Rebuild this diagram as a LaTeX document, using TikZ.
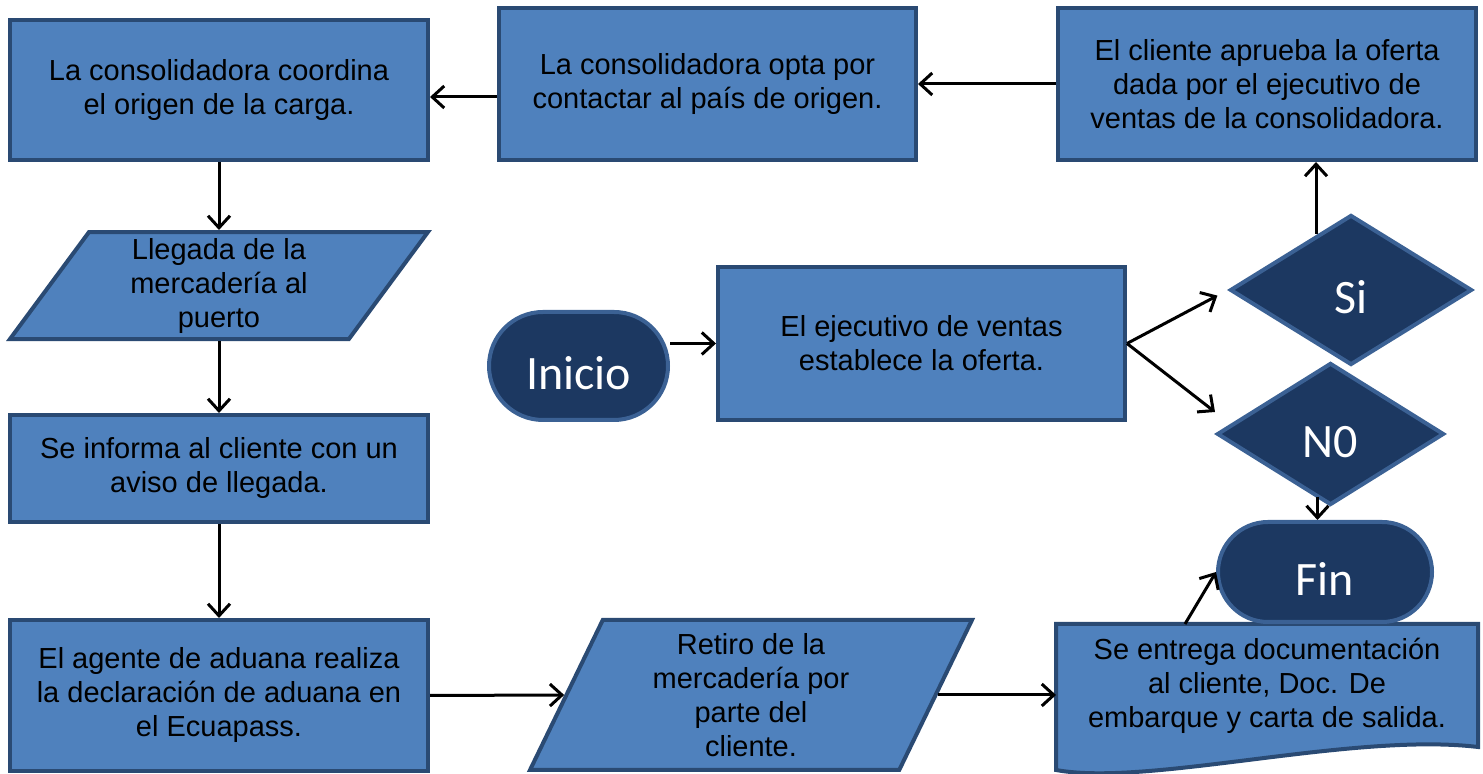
\documentclass[tikz,border=0pt]{standalone}
\usepackage{fontspec}
\setmainfont{Liberation Sans}
\newfontfamily\calibri{Carlito}
\usetikzlibrary{positioning,shapes.geometric,arrows.meta,backgrounds}

\definecolor{boxblue}{HTML}{4F81BD}
\definecolor{boxline}{HTML}{2A4A73}
\definecolor{darkblue}{HTML}{1C3861}
\definecolor{darkline}{HTML}{3B6194}

\tikzset{
  proc/.style={rectangle, draw=boxline, fill=boxblue, line width=2pt, align=center,
    inner sep=2pt, minimum width=209pt, font=\fontsize{14.5}{17}\selectfont},
  io/.style={proc, trapezium, trapezium stretches body=true},
  term/.style={rectangle, draw=darkline, fill=darkblue, line width=2pt, text=white,
    text height=24pt, text depth=0pt, font=\calibri\fontsize{24}{27}\selectfont},
  choice/.style={diamond, draw=darkline, fill=darkblue, line width=2pt, text=white,
    inner sep=0pt, text height=24pt, text depth=0pt, font=\calibri\fontsize{24}{27}\selectfont},
  flow/.style={line width=1.5pt, -{Straight Barb[length=6pt,width=11pt]}},
}

\begin{document}
\begin{tikzpicture}[x=0.5pt, y=0.5pt]
  \useasboundingbox (0,0) rectangle (1483,774);

  % top row
  \node[proc, minimum height=76pt] (aprueba) at (1267,690)
    {El cliente aprueba la oferta\\dada por el ejecutivo de\\ventas de la consolidadora.};
  \node[proc, minimum width=208.5pt, minimum height=76pt] (opta) at (707.5,690)
    {La consolidadora opta por\\contactar al país de origen.};
  \node[proc, minimum height=70pt] (coordina) at (219,684)
    {La consolidadora coordina\\el origen de la carga.};

  % left column
  \node[io, minimum height=53.5pt, trapezium left angle=52.5, trapezium right angle=127.5,
    below=34pt of coordina] (llegada) {Llegada de la\\mercadería al\\puerto};
  \node[proc, minimum height=53.5pt] (aviso) at (219,305.5)
    {Se informa al cliente con un\\aviso de llegada.};
  \node[proc, minimum height=75.5pt] (aduana) at (219,78.5)
    {El agente de aduana realiza\\la declaración de aduana en\\el Ecuapass.};

  % bottom row
  \node[io, minimum width=221pt, minimum height=75pt, trapezium left angle=61,
    trapezium right angle=119] (retiro) at (751,79)
    {Retiro de la\\mercadería por\\parte del\\cliente.};
  \node[proc, draw=none, fill=none, minimum height=59.5pt] (entrega) at (1267,88.5)
    {Se entrega documentación\\al cliente, Doc. De\\embarque y carta de salida.};
  \begin{scope}[on background layer]
    \draw[boxline, fill=boxblue, line width=2pt] (entrega.north west) -- (entrega.north east)
      -- (entrega.south east) .. controls +(-63pt,7.5pt) and +(46pt,-8.5pt)
      .. ([yshift=-11.5pt]entrega.south west) -- cycle;
  \end{scope}

  % middle
  \node[term, rounded corners=27pt, minimum width=89.5pt, minimum height=54pt] (inicio)
    at (578.5,408) {Inicio};
  \node[proc, minimum width=203.5pt, minimum height=76.5pt] (oferta) at (921.5,430.5)
    {El ejecutivo de ventas\\establece la oferta.};
  \node[choice, minimum width=121pt, minimum height=75pt] (si) at (1351,484) {Si};
  \node[choice, minimum width=113.5pt, minimum height=71pt] (no) at (1330.5,340) {N0};
  \node[term, rounded corners=25pt, minimum width=107pt, minimum height=50pt] (fin)
    at (1325,202) {Fin};

  % arrows
  \draw[flow] (aprueba.west) -- (opta.east);
  \draw[flow] ([yshift=-6.5pt]opta.west) -- ([yshift=-6.5pt]opta.west -| coordina.east);
  \draw[flow] (coordina.south) -- (llegada.north);
  \draw[flow] (llegada.south) -- (aviso.north);
  \draw[flow] (aviso.south) -- (aduana.north);
  \draw[flow] (aduana.east) -- (retiro.west);
  \draw[flow] (retiro.east) -- (retiro.east -| entrega.west);
  \draw[flow] (inicio.east |- oferta.west) -- (oferta.west);
  \draw[flow, shorten >=6pt] (oferta.east) -- (si.west);
  \draw[flow] (oferta.east) -- ([yshift=11pt]no.west);
  \draw[flow] ([xshift=-17.5pt,yshift=-10.5pt]si.north) -- ([xshift=-17.5pt]si.north |- aprueba.south);
  \draw[flow] ([xshift=-6.5pt,yshift=5pt]no.south) -- ([xshift=-6.5pt]no.south |- fin.north);
  \draw[flow] ([xshift=-41pt]entrega.north) -- (fin.west);
\end{tikzpicture}
\end{document}
